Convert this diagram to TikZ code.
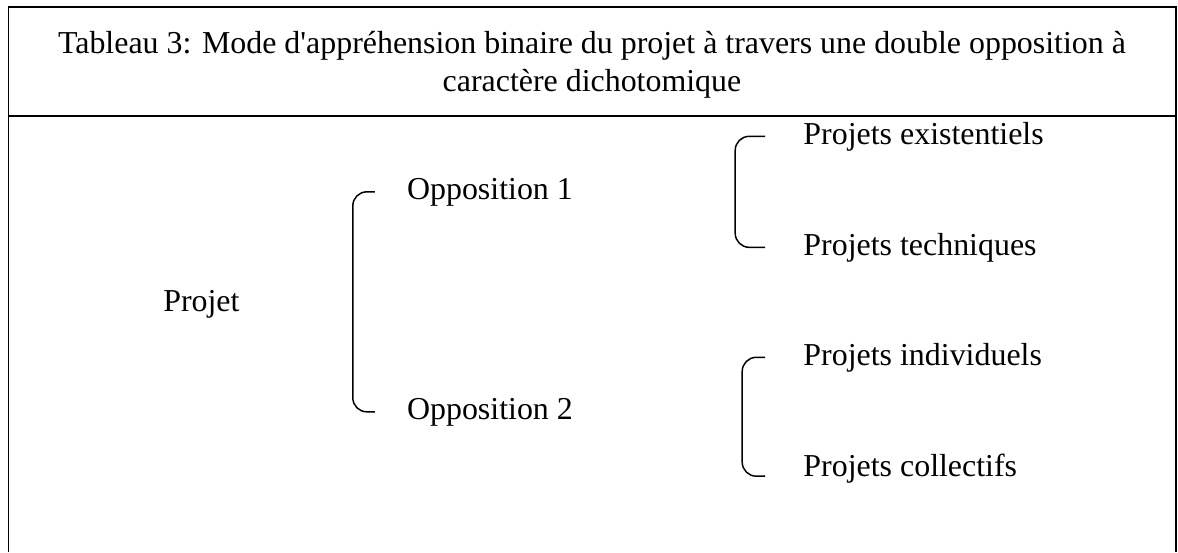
\documentclass[tikz,border=0pt]{standalone}
\usepackage{fontspec}
\setmainfont{Liberation Serif}
\usepackage{tikz}
\usetikzlibrary{positioning, calc}

\begin{document}
\begin{tikzpicture}[
    every node/.style={font=\fontsize{22.7pt}{27pt}\selectfont},
    cadre/.style={draw=black, line width=1.4pt},
    titre/.style={align=center, anchor=base, inner sep=0pt},
    terme/.style={anchor=base west, inner sep=0pt},
    accolade/.style={draw=black, line width=1.05pt, rounded corners=0.35cm},
]
\useasboundingbox (0,0) rectangle (29.45,-13.8);
% Cadre du tableau (ouvert en bas), ligne de séparation sous le titre
\draw[cadre] (0.2125,-13.8) |- (29.4,-0.1825) -- (29.4,-13.8);
\draw[cadre] (0.2125,-2.8925) -- (29.4,-2.8925);
% Titre (base = ligne du bas)
\node[titre] (titre) at (14.8,-2.275) {Tableau 3: Mode d\textquotesingle{}appréhension binaire du projet à travers une double opposition à\\caractère dichotomique};
% Colonne gauche : projet, puis les deux oppositions
\node[terme] (projet) at ( 4.075, -7.775) {Projet};
\node[terme] (opp1)   at (10.17,  -4.975) {Opposition 1};
\node[terme] (opp2)   at (10.17, -10.475) {Opposition 2};
% Colonne droite : les quatre types de projets
\node[terme] (exist)  at (20.08,  -3.6)   {Projets existentiels};
\node[terme] (techn)  at (20.08,  -6.375) {Projets techniques};
\node[terme] (indiv)  at (20.08,  -9.125) {Projets individuels};
\node[terme] (coll)   at (20.08, -11.9)   {Projets collectifs};
% Accolades
\draw[accolade] ([xshift=-0.8cm]opp1.west) -| ([xshift=-1.35cm]opp2.west) -- ([xshift=-0.8cm]opp2.west);
\draw[accolade] ([xshift=-0.95cm]exist.west) -| ([xshift=-1.7cm]techn.west) -- ([xshift=-0.95cm]techn.west);
\draw[accolade] ([xshift=-0.95cm]indiv.west) -| ([xshift=-1.525cm,yshift=-0.2cm]coll.west) -- ([xshift=-0.95cm,yshift=-0.2cm]coll.west);
\end{tikzpicture}
\end{document}
